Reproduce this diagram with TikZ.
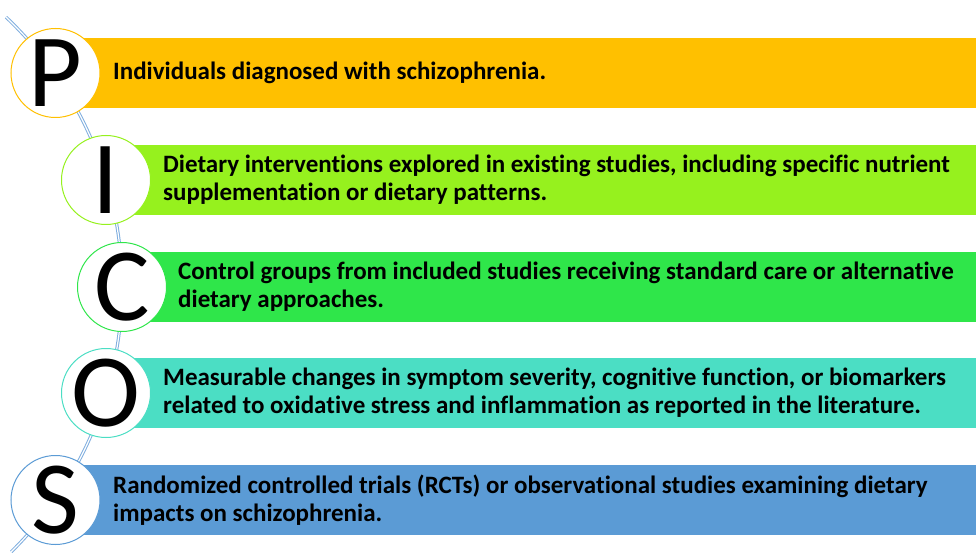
\documentclass[tikz,border=0pt]{standalone}
\usepackage{fontspec}
\setmainfont[Ligatures=NoCommon]{Carlito}
\begin{document}
\begin{tikzpicture}[x=1pt,y=1pt,
  band/.style={draw=none,fill=#1},
  ring/.style={circle,draw=#1,line width=1pt,fill=white,minimum size=89pt,inner sep=0pt},
  letter/.style={inner sep=0pt,font=\fontsize{104}{104}\selectfont},
  label/.style={anchor=west,align=left,inner sep=0pt,
    font=\fontsize{25}{28}\selectfont\bfseries},
  spine/.style={draw=spineblue,double=white,line width=1pt,double distance=1.2pt}]
\definecolor{pcol}{HTML}{FFC000}
\definecolor{icol}{HTML}{96F11E}
\definecolor{ccol}{HTML}{2FE64A}
\definecolor{ocol}{HTML}{4BDEC4}
\definecolor{scol}{HTML}{5B9BD5}
\definecolor{spineblue}{HTML}{7FAEDF}
\useasboundingbox (0,0) rectangle (976,552);
\fill[white] (0,0) rectangle (976,552);

% coloured bands
\fill[band=pcol] (80,444) rectangle (976,514);
\fill[band=icol] (130,337) rectangle (976,407);
\fill[band=ccol] (145,230) rectangle (976,300);
\fill[band=ocol] (130,124) rectangle (976,194);
\fill[band=scol] (80,17) rectangle (976,87);

% curved spine linking the letters
\draw[spine] (-250,265) ++(46.5:372) arc[start angle=46.5,end angle=-45.4,radius=372];

% letter circles
\node[ring=pcol] (rP) at (55.5,479) {};
\node[ring=icol] (rI) at (106,372) {};
\node[ring=ccol] (rC) at (122,265) {};
\node[ring=ocol] (rO) at (106,159) {};
\node[ring=scol] (rS) at (55.5,52) {};
\node[letter] (P) at (rP) {P};
\node[letter] (I) at (rI) {I};
\node[letter] (C) at (rC) {C};
\node[letter] (O) at (rO) {O};
\node[letter] (S) at (rS) {S};

% band texts
\node[label] (tP) at (113,479) {Individuals diagnosed with schizophrenia.};
\node[label] (tI) at (163,372) {Dietary interventions explored in existing studies, including specific nutrient\\supplementation or dietary patterns.};
\node[label] (tC) at (178,265) {Control groups from included studies receiving standard care or alternative\\dietary approaches.};
\node[label] (tO) at (163,159) {Measurable changes in symptom severity, cognitive function, or biomarkers\\related to oxidative stress and inflammation as reported in the literature.};
\node[label] (tS) at (113,52) {Randomized controlled trials (RCTs) or observational studies examining dietary\\impacts on schizophrenia.};
\end{tikzpicture}
\end{document}
